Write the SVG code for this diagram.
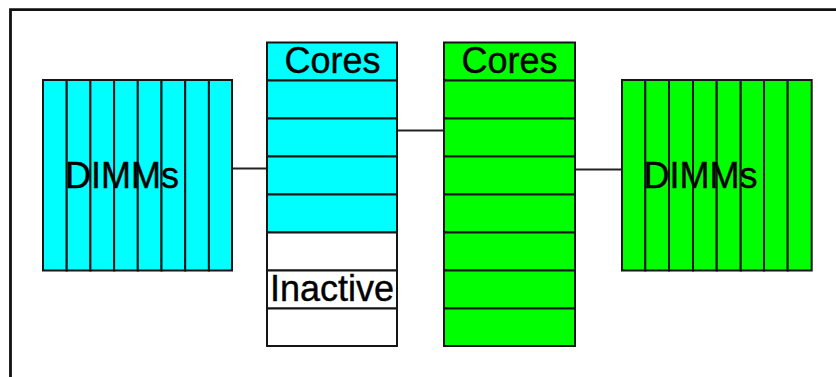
<svg xmlns="http://www.w3.org/2000/svg" width="836" height="377" viewBox="0 0 836 377">
  <style>
    .frame { stroke: #111; stroke-width: 2.8; fill: none; }
    .cell { stroke: #151515; stroke-width: 2; }
    .cyan { fill: #00ffff; }
    .green { fill: #00ff00; }
    .off { fill: #ffffff; }
    .wire { stroke: #222; stroke-width: 2; fill: none; }
    .lbl { font-family: "Liberation Sans", Arial, sans-serif; font-size: 36px; fill: #000; stroke: #000; stroke-width: 0.4; }
  </style>
  <rect width="836" height="377" fill="#fff"/>
  <!-- frame: top and left edges -->
  <path class="frame" d="M10.5 377 V9.7 H836"/>

  <g id="connectors">
    <line class="wire" x1="232" y1="168.5" x2="267" y2="168.5"/>
    <line class="wire" x1="397" y1="130.5" x2="444" y2="130.5"/>
    <line class="wire" x1="575" y1="169.5" x2="622" y2="169.5"/>
  </g>

  <g id="dimms-left">
    <g class="cell cyan">
      <rect x="43" y="80" width="23.7" height="190.5"/>
      <rect x="66.7" y="80" width="23.7" height="190.5"/>
      <rect x="90.4" y="80" width="23.7" height="190.5"/>
      <rect x="114.1" y="80" width="23.7" height="190.5"/>
      <rect x="137.8" y="80" width="23.7" height="190.5"/>
      <rect x="161.5" y="80" width="23.7" height="190.5"/>
      <rect x="185.2" y="80" width="23.7" height="190.5"/>
      <rect x="208.9" y="80" width="23.1" height="190.5"/>
    </g>
    <text class="lbl" x="65" y="188">DIMMs</text>
  </g>

  <g id="cores-left">
    <g class="cell">
      <rect class="cyan" x="267" y="42.5" width="130" height="38"/>
      <rect class="cyan" x="267" y="80.5" width="130" height="38"/>
      <rect class="cyan" x="267" y="118.5" width="130" height="38"/>
      <rect class="cyan" x="267" y="156.5" width="130" height="38"/>
      <rect class="cyan" x="267" y="194.5" width="130" height="38"/>
      <rect class="off" x="267" y="232.5" width="130" height="38"/>
      <rect class="off" x="267" y="270.5" width="130" height="38"/>
      <rect class="off" x="267" y="308.5" width="130" height="37.5"/>
    </g>
    <text class="lbl" x="332.5" y="73.3" text-anchor="middle">Cores</text>
    <text class="lbl" x="332" y="300.7" text-anchor="middle">Inactive</text>
  </g>

  <g id="cores-right">
    <g class="cell green">
      <rect x="444" y="42.5" width="131" height="38"/>
      <rect x="444" y="80.5" width="131" height="38"/>
      <rect x="444" y="118.5" width="131" height="38"/>
      <rect x="444" y="156.5" width="131" height="38"/>
      <rect x="444" y="194.5" width="131" height="38"/>
      <rect x="444" y="232.5" width="131" height="38"/>
      <rect x="444" y="270.5" width="131" height="38"/>
      <rect x="444" y="308.5" width="131" height="37.5"/>
    </g>
    <text class="lbl" x="509.5" y="73.3" text-anchor="middle">Cores</text>
  </g>

  <g id="dimms-right">
    <g class="cell green">
      <rect x="622" y="80" width="23.3" height="190.5"/>
      <rect x="645.3" y="80" width="23.7" height="190.5"/>
      <rect x="669" y="80" width="24" height="190.5"/>
      <rect x="693" y="80" width="23.7" height="190.5"/>
      <rect x="716.7" y="80" width="24" height="190.5"/>
      <rect x="740.7" y="80" width="23.3" height="190.5"/>
      <rect x="764" y="80" width="23.7" height="190.5"/>
      <rect x="787.7" y="80" width="24" height="190.5"/>
    </g>
    <text class="lbl" x="643.5" y="188.3">DIMMs</text>
  </g>
</svg>
